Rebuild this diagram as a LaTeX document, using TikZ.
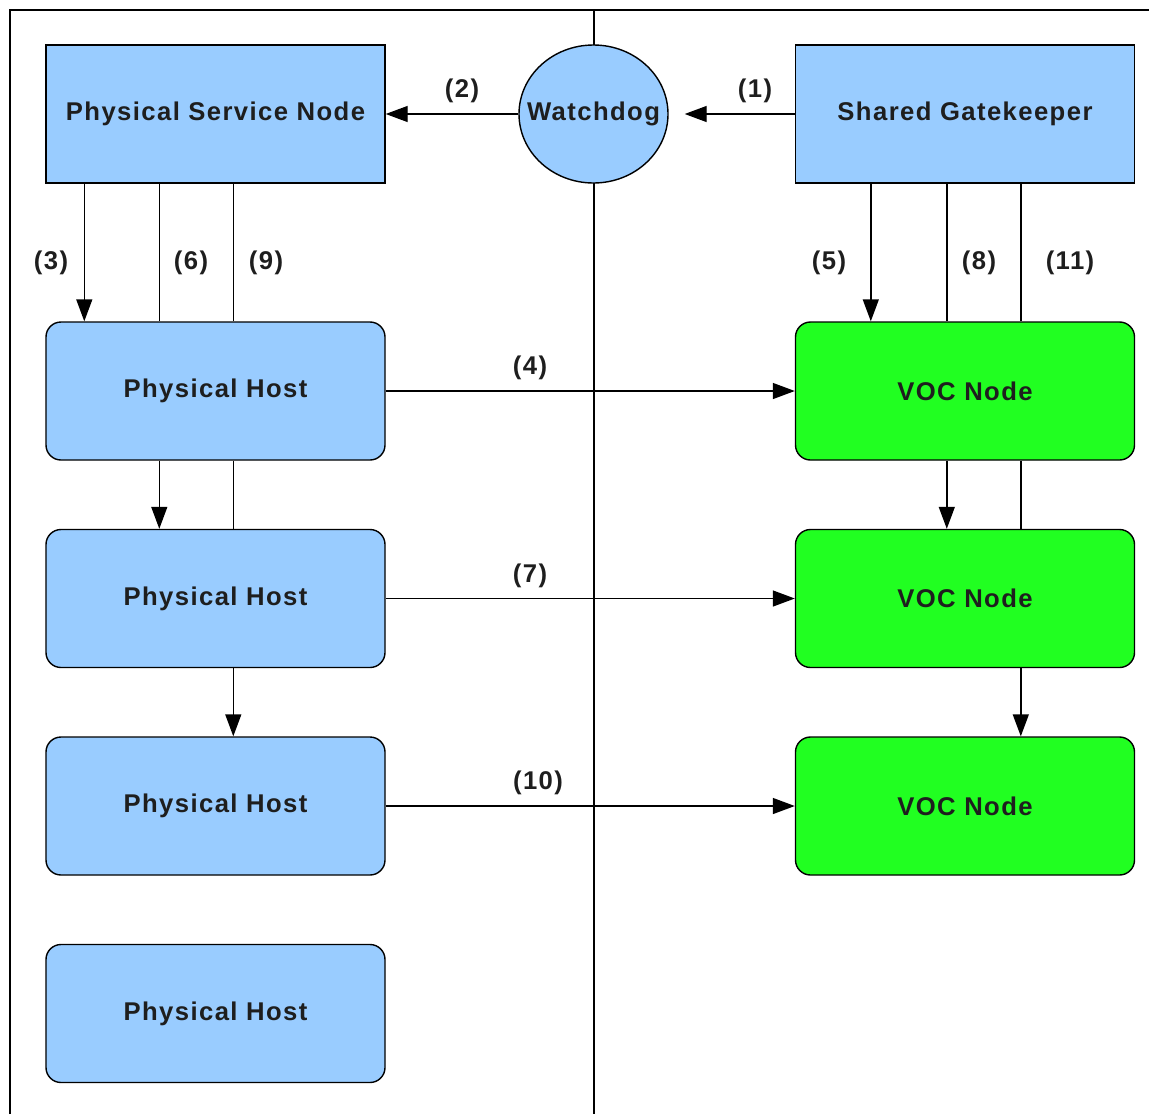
\documentclass[tikz,border=0pt]{standalone}
\usepackage{fontspec}
\setsansfont{Liberation Sans}[LetterSpace=5.5]
\usetikzlibrary{arrows.meta}
\usetikzlibrary{calc,shapes.geometric}

\definecolor{hostblue}{RGB}{153,204,255}
\definecolor{vocgreen}{RGB}{33,255,33}
\definecolor{inkgray}{RGB}{30,30,30}
\newcommand{\labelfont}{\sffamily\bfseries\fontsize{14.6}{16}\selectfont\color{inkgray}}

\begin{document}
\begin{tikzpicture}[x=0.2mm, y=-0.2mm, line width=0.8pt,
  >={Triangle[length=4.4mm,width=3.2mm]},
  box/.style={draw, fill=hostblue, minimum width=67.8mm, minimum height=27.6mm, inner sep=0pt, font=\labelfont},
  host/.style={box, rounded corners=3mm},
  voc/.style={host, fill=vocgreen},
  num/.style={font=\labelfont}]

\useasboundingbox (0,0) rectangle (1149,1114);

% frame and middle divider
\draw (10,1114) -- (10,10) -- (1149,10);
\draw (594,10) -- (594,1114);

% top row
\node[box] (psn) at (215.5,114) {Physical Service Node};
\node[box] (gate) at (965,114) {Shared Gatekeeper};
\node[draw, fill=hostblue, ellipse, minimum width=29.8mm, minimum height=27.6mm, inner sep=0pt,
      label={[num]center:Watchdog}] (wd) at (593.5,114) {};

% hosts and VOC nodes
\foreach \i/\y in {1/391,2/598.5,3/806,4/1013.5}
  \node[host] (host\i) at (215.5,\y) {Physical Host};
\foreach \i/\y in {1/391,2/598.5,3/806}
  \node[voc] (voc\i) at (965,\y) {VOC Node};

% watchdog links
\draw[->, shorten >=3.2mm] (gate.west) -- (wd.east);
\draw[->] (wd.west) -- (psn.east);
\node[num] (n1) at (755,91) {(1)};
\node[num] (n2) at (462,91) {(2)};

% service node down to the hosts
\draw[->] ([xshift=7.8mm]psn.south west) -- ([xshift=7.8mm]host1.north west);
\draw ([xshift=22.8mm]psn.south west) -- ([xshift=22.8mm]host1.north west);
\draw ([xshift=37.6mm]psn.south west) -- ([xshift=37.6mm]host1.north west);
\draw[->] ([xshift=22.8mm]host1.south west) -- ([xshift=22.8mm]host2.north west);
\draw ([xshift=37.6mm]host1.south west) -- ([xshift=37.6mm]host2.north west);
\draw[->] ([xshift=37.6mm]host2.south west) -- ([xshift=37.6mm]host3.north west);
\node[num] (n3) at (51,263) {(3)};
\node[num] (n6) at (191,263) {(6)};
\node[num] (n9) at (266,263) {(9)};

% gatekeeper down to the VOC nodes
\draw[->] ([xshift=15.2mm]gate.south west) -- ([xshift=15.2mm]voc1.north west);
\draw ([xshift=30.4mm]gate.south west) -- ([xshift=30.4mm]voc1.north west);
\draw ([xshift=45.2mm]gate.south west) -- ([xshift=45.2mm]voc1.north west);
\draw[->] ([xshift=30.4mm]voc1.south west) -- ([xshift=30.4mm]voc2.north west);
\draw ([xshift=45.2mm]voc1.south west) -- ([xshift=45.2mm]voc2.north west);
\draw[->] ([xshift=45.2mm]voc2.south west) -- ([xshift=45.2mm]voc3.north west);
\node[num] (n5) at (829,263) {(5)};
\node[num] (n8) at (979,263) {(8)};
\node[num] (n11) at (1070,263) {(11)};

% hosts across to the VOC nodes
\draw[->] (host1) -- (voc1);
\draw[->] (host2) -- (voc2);
\draw[->] (host3) -- (voc3);
\node[num] (n4) at (530,368) {(4)};
\node[num] (n7) at (530,576) {(7)};
\node[num] (n10) at (538,783) {(10)};

\end{tikzpicture}
\end{document}
